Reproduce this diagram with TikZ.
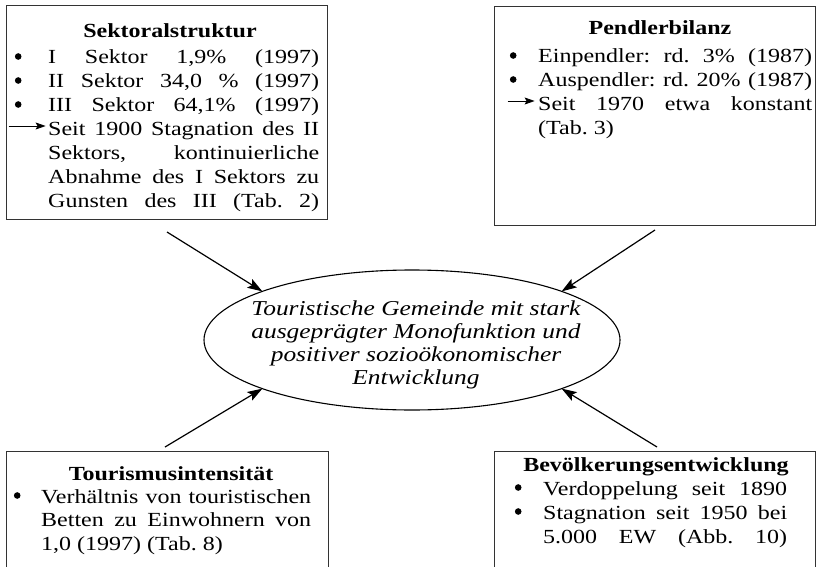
\documentclass[tikz,border=0pt]{standalone}
\usepackage{fontspec}
\setmainfont{Liberation Serif}[FakeStretch=1.2]
\usetikzlibrary{arrows.meta,shapes.geometric}

% width of the justified part of a list line
\newlength{\tw}
% bullet slot: total slot width, width of the box the bullet is centred in
\newcommand{\bulslot}[2]{\makebox[#1][l]{\makebox[#2][c]{\tikz[x=1pt,y=1pt,baseline={(0,0)}]{\path (0,0); \fill (0,7.5) circle[radius=3.3pt];}}}}
% arrow slot: total slot width, arrow length
\newcommand{\arrslot}[2]{\makebox[#1][l]{\tikz[x=1pt,y=1pt,baseline={(0,0)}]{\path (0,0);
  \draw[line width=0.8pt,-{Stealth[length=10pt,width=7pt,inset=2pt]}] (0,10) -- (#2,10);}}}
% empty slot for continuation lines
\newcommand{\noslot}[1]{\makebox[#1][l]{}}
% justified and plain list lines
\newcommand{\jl}[2]{\hbox{#1\makebox[\tw][s]{#2}}}
\newcommand{\pl}[2]{\hbox{#1#2}}

\tikzset{
  frame/.style={draw=black!80, line width=0.8pt, inner sep=0pt, outer sep=0pt, anchor=north west},
  txt/.style={inner sep=0pt, anchor=base west, font=\fontsize{20}{24}\selectfont\frenchspacing},
  head/.style={inner sep=0pt, anchor=base, font=\fontsize{20}{24}\selectfont\bfseries},
  link/.style={line width=1.2pt, -{Stealth[length=15pt,width=10pt,inset=3pt]}}
}

\begin{document}
\begin{tikzpicture}[x=1pt,y=-1pt]
\useasboundingbox (0,0) rectangle (816,567);
\clip (0,0) rectangle (816,567);

% frames
\node[frame, minimum width=321pt, minimum height=214pt] (b1) at (6,5) {};
\node[frame, minimum width=321pt, minimum height=219pt] (b2) at (494,6) {};
\node[frame, minimum width=322pt, minimum height=130pt] (b3) at (6,451) {};
\node[frame, minimum width=321pt, minimum height=130pt] (b4) at (494,451) {};

% Sektoralstruktur
\node[head] (h1) at (170,38) {Sektoralstruktur};
\node[txt] (t1) at (8,64) {\setlength{\tw}{271pt}\vtop{\baselineskip=24pt
  \jl{\bulslot{40pt}{20pt}}{I Sektor 1,9\% (1997)}
  \jl{\bulslot{40pt}{20pt}}{II Sektor 34,0 \% (1997)}
  \jl{\bulslot{40pt}{20pt}}{III Sektor 64,1\% (1997)}
  \jl{\arrslot{40pt}{37}}{Seit 1900 Stagnation des II}
  \jl{\noslot{40pt}}{Sektors, kontinuierliche}
  \jl{\noslot{40pt}}{Abnahme des I Sektors zu}
  \jl{\noslot{40pt}}{Gunsten des III (Tab. 2)}}};

% Pendlerbilanz
\node[head] (h2) at (660,35) {Pendlerbilanz};
\node[txt] (t2) at (507,63) {\setlength{\tw}{274pt}\vtop{\baselineskip=24pt
  \jl{\bulslot{31pt}{12pt}}{Einpendler: rd. 3\% (1987)}
  \jl{\bulslot{31pt}{12pt}}{Auspendler: rd. 20\% (1987)}
  \jl{\arrslot{31pt}{27}}{Seit 1970 etwa konstant}
  \pl{\noslot{31pt}}{(Tab. 3)}}};

% Tourismusintensitaet
\node[head] (h3) at (171,480) {Tourismusintensität};
\node[txt] (t3) at (7,503) {\setlength{\tw}{270pt}\vtop{\baselineskip=23.5pt
  \jl{\bulslot{34pt}{20pt}}{Verhältnis von touristischen}
  \jl{\noslot{34pt}}{Betten zu Einwohnern von}
  \pl{\noslot{34pt}}{1,0 (1997) (Tab. 8)}}};

% Bevoelkerungsentwicklung
\node[head] (h4) at (656,471) {Bevölkerungsentwicklung};
\node[txt] (t4) at (508,495) {\setlength{\tw}{244pt}\vtop{\baselineskip=24pt
  \jl{\bulslot{35pt}{20pt}}{Verdoppelung seit 1890}
  \jl{\bulslot{35pt}{20pt}}{Stagnation seit 1950 bei}
  \jl{\noslot{35pt}}{5.000 EW (Abb. 10)}}};

% central ellipse
\node[draw, ellipse, line width=1.1pt, minimum width=416pt, minimum height=140pt,
      inner sep=0pt, outer sep=0pt] (ell) at (412,340) {};
\node[inner sep=0pt, anchor=base, font=\fontsize{21.2}{23}\selectfont\itshape] (et) at (416,315)
  {\vtop{\baselineskip=23pt
   \hbox to 400pt{\hfil Touristische Gemeinde mit stark\hfil}
   \hbox to 400pt{\hfil ausgeprägter Monofunktion und\hfil}
   \hbox to 400pt{\hfil positiver sozioökonomischer\hfil}
   \hbox to 400pt{\hfil Entwicklung\hfil}}};

% connectors
\coordinate (a1) at (167,232);
\coordinate (a2) at (655,230);
\coordinate (a3) at (165,447);
\coordinate (a4) at (657,447);
\draw[link] (a1) -- (ell.162);
\draw[link] (a2) -- (ell.18);
\draw[link] (a3) -- (ell.198);
\draw[link] (a4) -- (ell.342);
\end{tikzpicture}
\end{document}
